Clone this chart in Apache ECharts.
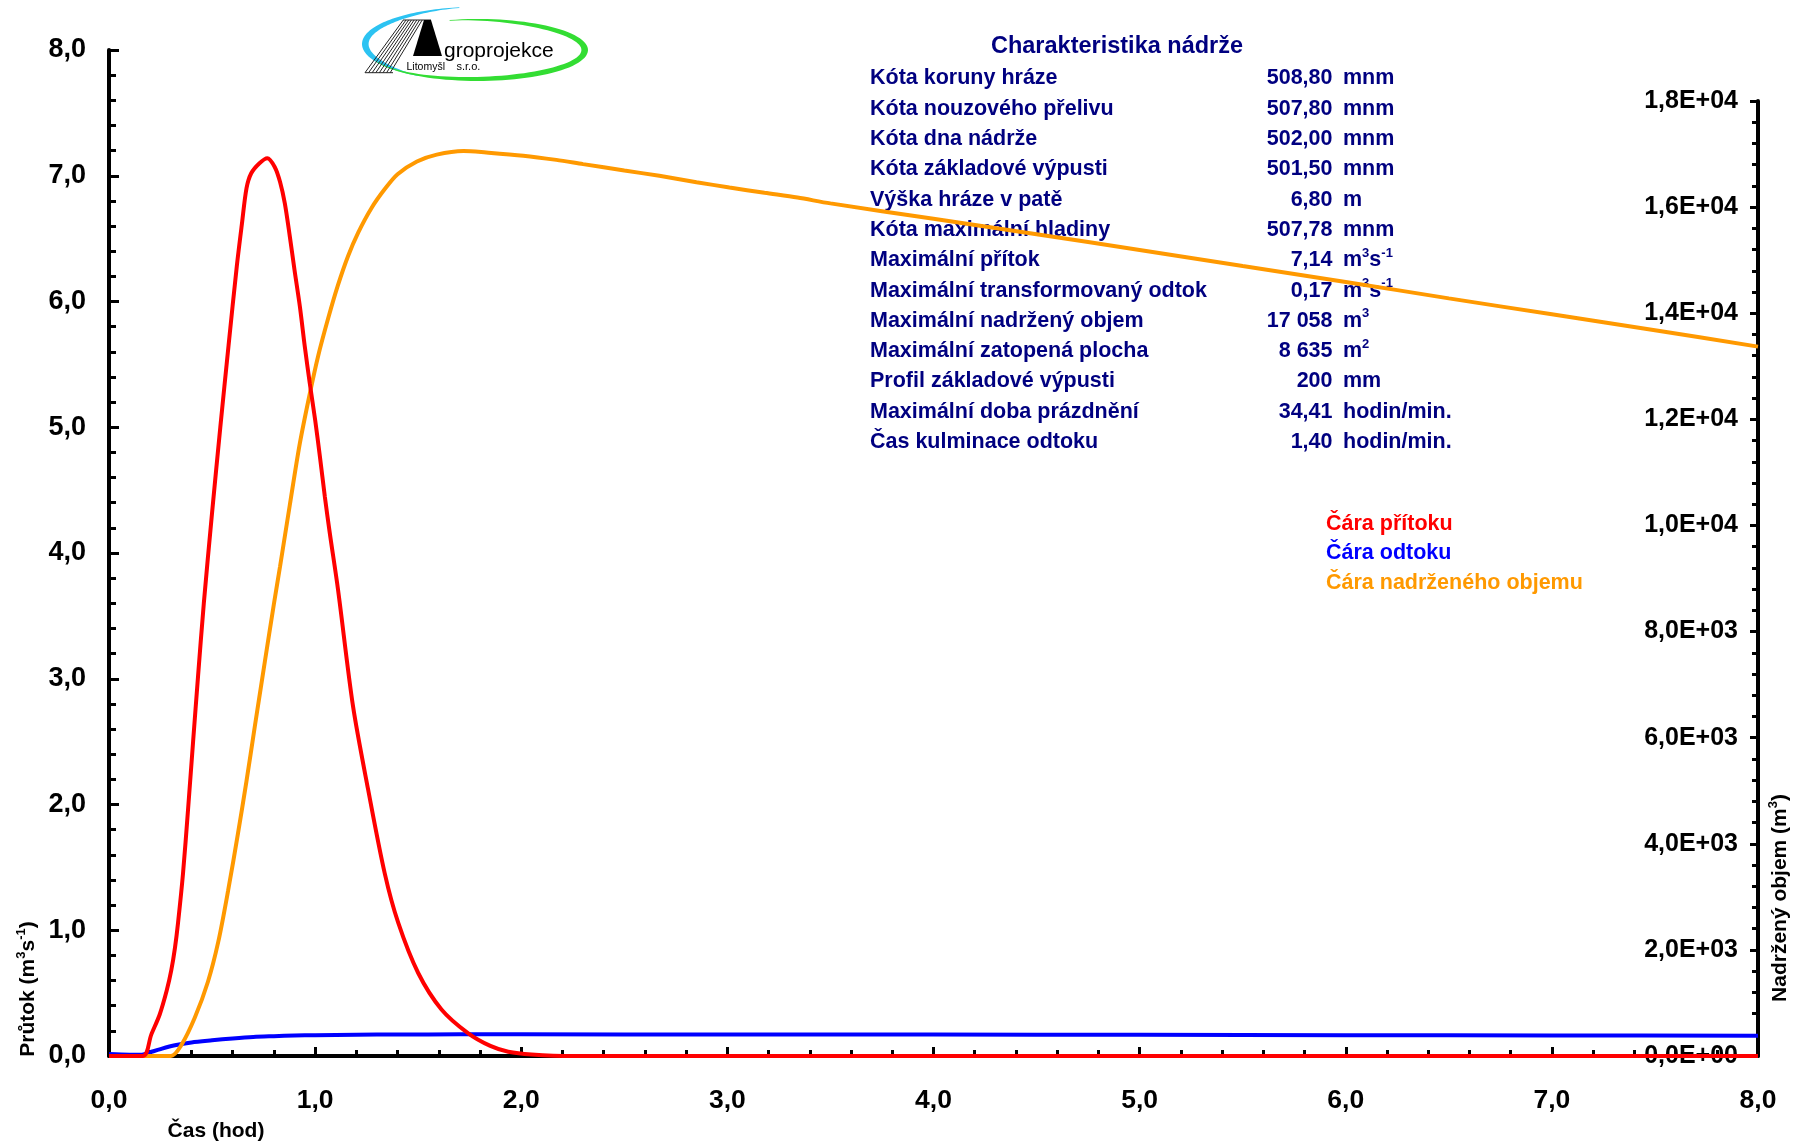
<!DOCTYPE html>
<html><head><meta charset="utf-8">
<script src="https://cdn.jsdelivr.net/npm/echarts@6/dist/echarts.min.js"></script>
<style>html,body{margin:0;padding:0;background:#fff}#c{width:1803px;height:1147px}</style>
</head><body><div id="c"></div>
<script>
// ---------- tick labels ----------
const xTickLabels = ['0,0','1,0','2,0','3,0','4,0','5,0','6,0','7,0','8,0'];
const leftTickLabels = ['0,0','1,0','2,0','3,0','4,0','5,0','6,0','7,0','8,0'];
const rightTickLabels = ['0,0E+00','2,0E+03','4,0E+03','6,0E+03','8,0E+03','1,0E+04','1,2E+04','1,4E+04','1,6E+04','1,8E+04'];

// ---------- series data ----------
const inflowTime = [0,0.165,0.205,0.246,0.28,0.302,0.32,0.335,0.359,0.383,0.408,0.432,0.46,0.50,0.54,0.58,0.62,0.645,0.667,0.69,0.73,0.768,0.804,0.83,0.853,0.877,0.90,0.926,0.95,0.974,1.0,1.023,1.047,1.071,1.111,1.184,1.257,1.338,1.403,1.50,1.613,1.743,1.85,1.937,2.05,2.25,8.0];
const inflowQ    = [0,0,0.17,0.33,0.52,0.68,0.86,1.06,1.45,1.95,2.50,3.02,3.60,4.32,5.00,5.65,6.28,6.62,6.90,7.02,7.10,7.14,7.07,6.95,6.78,6.52,6.25,5.96,5.64,5.35,5.06,4.77,4.45,4.16,3.71,2.78,2.12,1.45,1.06,0.66,0.37,0.18,0.08,0.034,0.012,0,0];

const outflowTime = [0,0.1,0.16,0.2,0.25,0.32,0.4,0.5,0.6,0.7,0.8,0.9,1.0,1.2,1.4,1.7,2.0,3.0,4.0,5.0,6.0,7.0,8.0];
const outflowQ    = [0.015,0.01,0.01,0.03,0.055,0.085,0.108,0.125,0.14,0.152,0.158,0.163,0.166,0.169,0.171,0.172,0.172,0.171,0.170,0.168,0.166,0.164,0.162];

const volumeTime = [0,0.3,0.35,0.416,0.48,0.53,0.578,0.626,0.667,0.707,0.756,0.80,0.83,0.877,0.926,0.974,1.015,1.063,1.11,1.16,1.209,1.273,1.338,1.40,1.494,1.59,1.72,1.83,2.01,2.17,2.30,2.50,2.67,2.85,3.01,3.18,3.34,3.5,4.0,4.5,5.0,5.5,6.0,6.5,7.0,7.5,8.0];
const volumeV    = [0,0,200,720,1400,2150,3120,4200,5180,6200,7430,8520,9230,10380,11550,12480,13200,13900,14520,15080,15520,15980,16340,16620,16860,16990,17058,17030,16970,16890,16810,16690,16590,16470,16370,16270,16180,16070,15780,15490,15190,14890,14590,14280,13980,13680,13370];

// ---------- text content ----------
const tableTitle = 'Charakteristika nádrže';
const tableLabels = ['Kóta koruny hráze','Kóta nouzového přelivu','Kóta dna nádrže','Kóta základové výpusti','Výška hráze v patě','Kóta maximální hladiny','Maximální přítok','Maximální transformovaný odtok','Maximální nadržený objem','Maximální zatopená plocha','Profil základové výpusti','Maximální doba prázdnění','Čas kulminace odtoku'];
const tableValues = ['508,80','507,80','502,00','501,50','6,80','507,78','7,14','0,17','17 058','8 635','200','34,41','1,40'];
const tableUnits  = ['mnm','mnm','mnm','mnm','m','mnm','m^3s^-1','m^3s^-1','m^3','m^2','mm','hodin/min.','hodin/min.'];
const legendLabels = ['Čára přítoku','Čára odtoku','Čára nadrženého objemu'];
const xAxisName = 'Čas (hod)';
const leftAxisName = 'Průtok (m^3s^-1)';
const rightAxisName = 'Nadržený objem (m^3)';
const logoMain = 'groprojekce';
const logoCity = 'Litomyšl';
const logoForm = 's.r.o.';

// ---------- helpers ----------
const FF = "'Liberation Sans', Arial, sans-serif";
const NAVY = '#000080';
const COLORS = ['#ff0000', '#0000ff', '#ff9900'];
function zip(a, b) { return a.map((v, i) => [v, b[i]]); }
function richify(str) {
  const parts = str.split(/(\^-?\d+)/).filter(s => s.length);
  return parts.map(p => p[0] === '^' ? '{s|' + p.slice(1) + '}' : '{a|' + p + '}').join('');
}
function richStyles(size, supSize, color, lh) {
  return {
    a: { font: 'bold ' + size + 'px ' + FF, fill: color, lineHeight: lh },
    s: { font: 'bold ' + supSize + 'px ' + FF, fill: color, verticalAlign: 'top' }
  };
}
function crescent(cx, cy, rx, ry, a0, a1, peak, w, color) {
  const outer = [], inner = [];
  const N = 80;
  for (let i = 0; i <= N; i++) {
    const a = a0 + (a1 - a0) * i / N;
    let f;
    if (a <= peak) f = Math.sin(Math.PI / 2 * (a - a0) / (peak - a0));
    else f = Math.sin(Math.PI / 2 * (a1 - a) / (a1 - peak));
    const t = 0.6 + w * Math.pow(Math.max(f, 0), 1.2);
    const r = a * Math.PI / 180;
    outer.push([cx + rx * Math.cos(r), cy + ry * Math.sin(r)]);
    inner.push([cx + (rx - t) * Math.cos(r), cy + (ry - t) * Math.sin(r)]);
  }
  return { type: 'polygon', shape: { points: outer.concat(inner.reverse()) }, style: { fill: color } };
}

// ---------- graphics ----------
const graphics = [];
graphics.push(crescent(475, 44, 113, 37, 120, 262, 180, 6, '#2cc3f2'));
graphics.push(crescent(478, 50, 110, 31, -105, 160, 0, 6, '#33dd33'));
for (let i = 0; i < 8; i++) {
  graphics.push({ type: 'line', shape: { x1: 403.3 + i * 2.7, y1: 20, x2: 365 + i * 3.6, y2: 72.7 }, style: { stroke: '#222', lineWidth: 1 } });
}
graphics.push({ type: 'line', shape: { x1: 403, y1: 20, x2: 431, y2: 20 }, style: { stroke: '#222', lineWidth: 1 } });
graphics.push({ type: 'line', shape: { x1: 365, y1: 72.7, x2: 393, y2: 72.7 }, style: { stroke: '#222', lineWidth: 1 } });
graphics.push({ type: 'polygon', shape: { points: [[424, 20], [431, 20], [442, 56], [413, 56]] }, style: { fill: '#000' } });
graphics.push({ type: 'text', x: 444, y: 51, style: { text: logoMain, font: '21px ' + FF, fill: '#000', textAlign: 'left', textVerticalAlign: 'middle' } });
graphics.push({ type: 'text', x: 406.5, y: 67, style: { text: logoCity, font: '10.5px ' + FF, fill: '#000', textAlign: 'left', textVerticalAlign: 'middle' } });
graphics.push({ type: 'text', x: 456.5, y: 67, style: { text: logoForm, font: '11px ' + FF, fill: '#000', textAlign: 'left', textVerticalAlign: 'middle' } });

graphics.push({ type: 'text', x: 1117, y: 47, style: { text: tableTitle, font: 'bold 23.5px ' + FF, fill: NAVY, textAlign: 'center', textVerticalAlign: 'middle' } });
tableLabels.forEach((lab, i) => {
  const y = 78.5 + i * 30.3;
  graphics.push({ type: 'text', x: 870, y: y, style: { text: lab, font: 'bold 21.5px ' + FF, fill: NAVY, textAlign: 'left', textVerticalAlign: 'middle' } });
  graphics.push({ type: 'text', x: 1332.5, y: y, style: { text: tableValues[i], font: 'bold 21.5px ' + FF, fill: NAVY, textAlign: 'right', textVerticalAlign: 'middle' } });
  graphics.push({ type: 'text', x: 1343, y: y, style: { text: richify(tableUnits[i]), rich: richStyles(21.5, 13, NAVY, 27), textAlign: 'left', textVerticalAlign: 'middle' } });
});
legendLabels.forEach((lab, i) => {
  graphics.push({ type: 'text', x: 1326, y: 524 + i * 29.3, style: { text: lab, font: 'bold 21.5px ' + FF, fill: COLORS[i], textAlign: 'left', textVerticalAlign: 'middle' } });
});
graphics.push({ type: 'text', x: 216, y: 1131, style: { text: xAxisName, font: 'bold 21px ' + FF, fill: '#000', textAlign: 'center', textVerticalAlign: 'middle' } });
graphics.push({ type: 'text', x: 28, y: 989, rotation: Math.PI / 2, style: { text: richify(leftAxisName), rich: richStyles(21, 13, '#000', 27), textAlign: 'center', textVerticalAlign: 'middle' } });
graphics.push({ type: 'text', x: 1780, y: 898, rotation: Math.PI / 2, style: { text: richify(rightAxisName), rich: richStyles(21, 13, '#000', 27), textAlign: 'center', textVerticalAlign: 'middle' } });

// ---------- chart ----------
const chart = echarts.init(document.getElementById('c'), null, { renderer: 'canvas' });
const labelFont = { fontFamily: FF, fontWeight: 'bold', color: '#000' };
const tickStyle = { color: '#000', width: 3 };
chart.setOption({
  animation: false,
  backgroundColor: '#fff',
  grid: [
    { left: 109, right: 45, top: 50, bottom: 91 },
    { left: 109, right: 45, top: 101, bottom: 91 }
  ],
  xAxis: [
    {
      gridIndex: 0, type: 'value', min: 0, max: 8, interval: 1,
      axisLine: { onZero: false, lineStyle: { color: '#000', width: 4 } },
      axisTick: { inside: true, length: 9, lineStyle: tickStyle },
      minorTick: { show: true, splitNumber: 5, length: 6, lineStyle: tickStyle },
      splitLine: { show: false }, minorSplitLine: { show: false },
      axisLabel: Object.assign({ fontSize: 26.5, margin: 31, formatter: v => xTickLabels[Math.round(v)] || '' }, labelFont)
    },
    { gridIndex: 1, type: 'value', min: 0, max: 8, show: false }
  ],
  yAxis: [
    {
      gridIndex: 0, type: 'value', min: 0, max: 8, interval: 1, position: 'left',
      axisLine: { show: true, onZero: false, lineStyle: { color: '#000', width: 4 } },
      axisTick: { show: true, inside: true, length: 10, lineStyle: tickStyle },
      minorTick: { show: true, splitNumber: 5, length: 7, lineStyle: tickStyle },
      splitLine: { show: false },
      axisLabel: Object.assign({ fontSize: 27, margin: 23, formatter: v => leftTickLabels[Math.round(v)] || '' }, labelFont)
    },
    {
      gridIndex: 1, type: 'value', min: 0, max: 18000, interval: 2000, position: 'right',
      axisLine: { show: true, onZero: false, lineStyle: { color: '#000', width: 4 } },
      axisTick: { show: true, inside: true, length: 8, lineStyle: tickStyle },
      minorTick: { show: true, splitNumber: 5, length: 6, lineStyle: tickStyle },
      splitLine: { show: false },
      axisLabel: Object.assign({ inside: true, fontSize: 25, margin: 20, formatter: v => rightTickLabels[Math.round(v / 2000)] || '' }, labelFont)
    }
  ],
  series: [
    { name: 'odtok', type: 'line', xAxisIndex: 0, yAxisIndex: 0, data: zip(outflowTime, outflowQ), showSymbol: false, smooth: 0.3, lineStyle: { color: COLORS[1], width: 4 }, z: 3 },
    { name: 'objem', type: 'line', xAxisIndex: 1, yAxisIndex: 1, data: zip(volumeTime, volumeV), showSymbol: false, smooth: 0.3, lineStyle: { color: COLORS[2], width: 4 }, z: 4 },
    { name: 'přítok', type: 'line', xAxisIndex: 0, yAxisIndex: 0, data: zip(inflowTime, inflowQ), showSymbol: false, smooth: 0.3, lineStyle: { color: COLORS[0], width: 4 }, z: 5 }
  ],
  graphic: graphics
});
</script></body></html>
